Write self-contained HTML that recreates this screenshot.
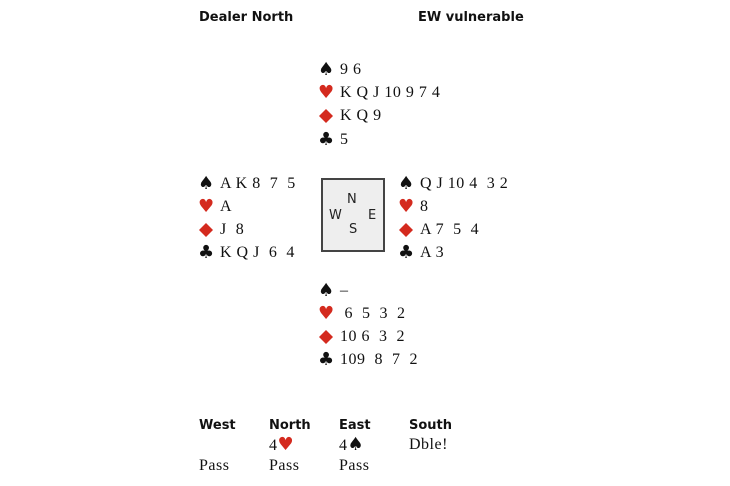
<!DOCTYPE html>
<html><head><style>
body{margin:0;width:730px;height:486px;background:#fff;position:relative;overflow:hidden;font-family:"Liberation Serif",serif;color:#111}
.l{position:absolute;font-size:16px;line-height:18px;white-space:pre;letter-spacing:0.5px}
.h{position:absolute;font-family:"DejaVu Sans","Liberation Sans",sans-serif;font-weight:bold;font-size:13px;line-height:16px;white-space:pre}
.s{display:inline-block;width:22px;font-family:"DejaVu Sans",sans-serif;font-size:18px;line-height:18px;letter-spacing:0;vertical-align:top;margin-left:-1px}
.r{color:#d42a1e}
.d{display:inline-block;width:22px;height:18px;vertical-align:top;margin-left:-1px}
.c{position:absolute;font-family:"DejaVu Sans",sans-serif;font-size:13px;line-height:14px;color:#222}
</style></head><body>
<div class="h" style="left:199px;top:10px">Dealer North</div>
<div class="h" style="left:418px;top:10px">EW vulnerable</div>

<div class="l" style="left:319px;top:61px"><span class="s">♠</span>9 6</div>
<div class="l" style="left:319px;top:84px"><span class="s r">♥</span>K Q J 10 9 7 4</div>
<div class="l" style="left:319px;top:107px"><svg class="d"><polygon points="8,2 15,9 8,16 1,9" fill="#d42a1e"/></svg>K Q 9</div>
<div class="l" style="left:319px;top:131px"><span class="s">♣</span>5</div>

<div class="l" style="left:199px;top:175px"><span class="s">♠</span>A K 8  7  5</div>
<div class="l" style="left:199px;top:198px"><span class="s r">♥</span>A</div>
<div class="l" style="left:199px;top:221px"><svg class="d"><polygon points="8,2 15,9 8,16 1,9" fill="#d42a1e"/></svg>J  8</div>
<div class="l" style="left:199px;top:244px"><span class="s">♣</span>K Q J  6  4</div>

<div class="l" style="left:399px;top:175px"><span class="s">♠</span>Q J 10 4  3 2</div>
<div class="l" style="left:399px;top:198px"><span class="s r">♥</span>8</div>
<div class="l" style="left:399px;top:221px"><svg class="d"><polygon points="8,2 15,9 8,16 1,9" fill="#d42a1e"/></svg>A 7  5  4</div>
<div class="l" style="left:399px;top:244px"><span class="s">♣</span>A 3</div>

<div style="position:absolute;left:321px;top:178px;width:60px;height:70px;border:2px solid #444;background:#eee"></div>
<div class="c" style="left:347px;top:193px">N</div>
<div class="c" style="left:329px;top:209px">W</div>
<div class="c" style="left:368px;top:209px">E</div>
<div class="c" style="left:349px;top:223px">S</div>

<div class="l" style="left:319px;top:282px"><span class="s">♠</span>–</div>
<div class="l" style="left:319px;top:305px"><span class="s r">♥</span> 6  5  3  2</div>
<div class="l" style="left:319px;top:328px"><svg class="d"><polygon points="8,2 15,9 8,16 1,9" fill="#d42a1e"/></svg>10 6  3  2</div>
<div class="l" style="left:319px;top:351px"><span class="s">♣</span>109  8  7  2</div>

<div class="h" style="left:199px;top:418px">West</div>
<div class="h" style="left:269px;top:418px">North</div>
<div class="h" style="left:339px;top:418px">East</div>
<div class="h" style="left:409px;top:418px">South</div>
<div class="l" style="left:269px;top:436px">4<span class="r" style="font-family:'DejaVu Sans';font-size:18px">♥</span></div>
<div class="l" style="left:339px;top:436px">4<span style="font-family:'DejaVu Sans';font-size:18px">♠</span></div>
<div class="l" style="left:409px;top:436px">Dble!</div>
<div class="l" style="left:199px;top:457px">Pass</div>
<div class="l" style="left:269px;top:457px">Pass</div>
<div class="l" style="left:339px;top:457px">Pass</div>
</body></html>
